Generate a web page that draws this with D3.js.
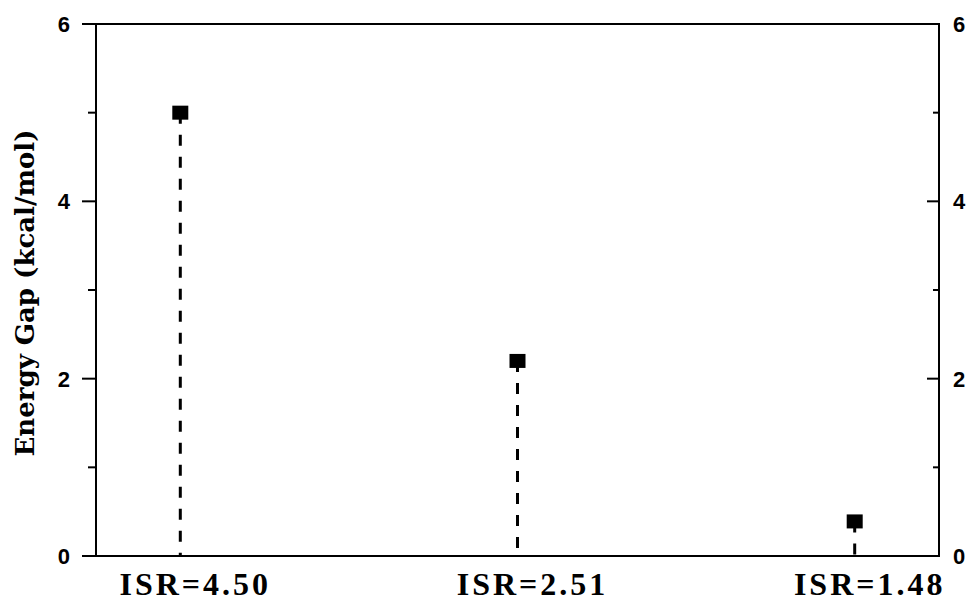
<!DOCTYPE html>
<html>
<head>
<meta charset="utf-8">
<script src="https://cdn.jsdelivr.net/npm/d3@7"></script>
<style>
  body { margin: 0; background: #fff; }
  .tick-label { font-family: "Liberation Sans", Arial, sans-serif; font-weight: bold; font-size: 22px; }
  .cat-label { font-family: "Liberation Serif", "Times New Roman", serif; font-weight: bold; font-size: 32px; letter-spacing: 3px; }
  .axis-title { font-family: "DejaVu Serif", serif; font-weight: bold; font-size: 26px; }
</style>
</head>
<body>
<script>
// ---------------------------------------------------------------
// data
var categories = ["ISR=4.50", "ISR=2.51", "ISR=1.48"];
var energy_gap = [5.0, 2.2, 0.39];
var major_ticks = [0, 2, 4, 6];
var minor_ticks = [1, 3, 5];
// ---------------------------------------------------------------

var W = 970, H = 602;
var margin = { top: 24, right: 31, bottom: 46, left: 96 };
var width = W - margin.left - margin.right;
var height = H - margin.top - margin.bottom;

var svg = d3.select("body").append("svg")
    .attr("width", W)
    .attr("height", H)
  .append("g")
    .attr("transform", "translate(" + margin.left + "," + margin.top + ")");

var x = d3.scalePoint()
    .domain(categories)
    .range([0, width])
    .padding(0.25);

var y = d3.scaleLinear()
    .domain([0, 6])
    .range([height, 0]);

// frame
svg.append("rect")
    .attr("x", 0).attr("y", 0)
    .attr("width", width).attr("height", height)
    .attr("fill", "none")
    .attr("stroke", "#000")
    .attr("stroke-width", 2);

// left axis: outward ticks
svg.append("g").selectAll("line.maj")
    .data(major_ticks).enter().append("line")
    .attr("x1", -14).attr("x2", 0)
    .attr("y1", function (d) { return y(d); })
    .attr("y2", function (d) { return y(d); })
    .attr("stroke", "#000").attr("stroke-width", 2);

svg.append("g").selectAll("line.min")
    .data(minor_ticks).enter().append("line")
    .attr("x1", -8).attr("x2", 0)
    .attr("y1", function (d) { return y(d); })
    .attr("y2", function (d) { return y(d); })
    .attr("stroke", "#000").attr("stroke-width", 2);

// right axis: inward ticks
svg.append("g").selectAll("line.rmaj")
    .data(major_ticks).enter().append("line")
    .attr("x1", width - 12).attr("x2", width)
    .attr("y1", function (d) { return y(d); })
    .attr("y2", function (d) { return y(d); })
    .attr("stroke", "#000").attr("stroke-width", 2);

svg.append("g").selectAll("line.rmin")
    .data(minor_ticks).enter().append("line")
    .attr("x1", width - 6).attr("x2", width)
    .attr("y1", function (d) { return y(d); })
    .attr("y2", function (d) { return y(d); })
    .attr("stroke", "#000").attr("stroke-width", 2);

// tick labels
svg.append("g").selectAll("text")
    .data(major_ticks).enter().append("text")
    .attr("class", "tick-label")
    .attr("x", -26)
    .attr("y", function (d) { return y(d); })
    .attr("dy", "0.36em")
    .style("text-anchor", "end")
    .text(function (d) { return d; });

svg.append("g").selectAll("text")
    .data(major_ticks).enter().append("text")
    .attr("class", "tick-label")
    .attr("x", width + 14)
    .attr("y", function (d) { return y(d); })
    .attr("dy", "0.36em")
    .style("text-anchor", "start")
    .text(function (d) { return d; });

// category labels
svg.append("g").selectAll("text")
    .data(categories).enter().append("text")
    .attr("class", "cat-label")
    .attr("x", function (d) { return x(d) + 15; })
    .attr("y", height + 39)
    .style("text-anchor", "middle")
    .text(function (d) { return d; });

// axis title
svg.append("text")
    .attr("class", "axis-title")
    .attr("transform", "translate(" + (-margin.left + 34) + "," + (293 - margin.top) + ") rotate(-90)")
    .style("text-anchor", "middle")
    .text("Energy Gap (kcal/mol)");

// drop lines
var pts = categories.map(function (c, i) { return { cat: c, value: energy_gap[i] }; });

svg.append("g").selectAll("line")
    .data(pts).enter().append("line")
    .attr("x1", function (d) { return x(d.cat); })
    .attr("x2", function (d) { return x(d.cat); })
    .attr("y1", function (d) { return y(d.value); })
    .attr("y2", y(0))
    .attr("stroke", "#000")
    .attr("stroke-width", 3)
    .attr("stroke-dasharray", "11,11");

// markers
svg.append("g").selectAll("rect")
    .data(pts).enter().append("rect")
    .attr("x", function (d) { return x(d.cat) - 8; })
    .attr("y", function (d) { return y(d.value) - 7; })
    .attr("width", 16)
    .attr("height", 14)
    .attr("fill", "#000");
</script>
</body>
</html>
